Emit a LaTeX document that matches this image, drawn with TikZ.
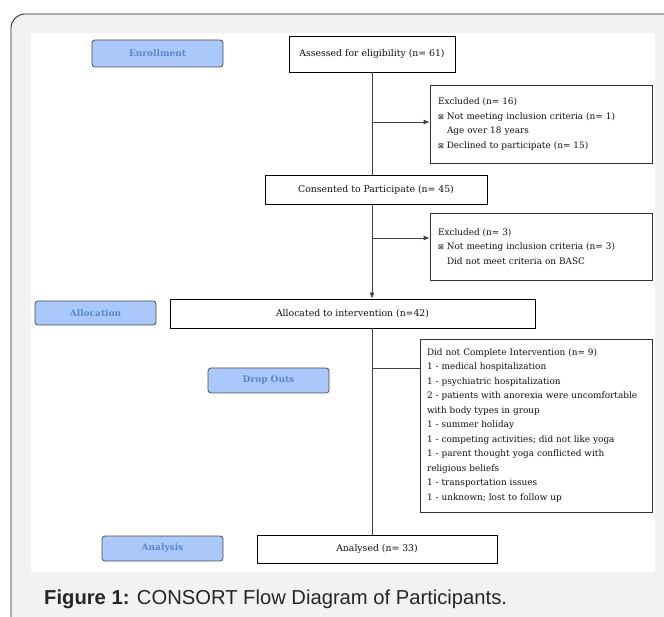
\documentclass[tikz,border=0pt]{standalone}
\usepackage{fontspec}
\setmainfont{DejaVu Serif}
\newfontfamily\capfont{Liberation Sans}
\newfontfamily\symfont{DejaVu Sans}
\usetikzlibrary{arrows.meta}

\definecolor{framegray}{HTML}{F1F2F4}
\definecolor{stagefill}{HTML}{ABC8FA}
\definecolor{stagetext}{HTML}{5B86C9}
\definecolor{inkgray}{HTML}{111111}

\newcommand{\bx}{{\symfont\fontsize{7}{8}\selectfont ⊠}\ }

\begin{document}
\begin{tikzpicture}[x=1pt,y=-1pt,
    stage/.style={draw=black!70, line width=0.8pt, fill=stagefill,
      rounded corners=3pt, inner sep=0pt, text=stagetext,
      font=\bfseries\fontsize{9}{11}\selectfont},
    flowbox/.style={draw=black, line width=0.8pt, fill=white, inner sep=0pt,
      text=inkgray, font=\fontsize{9.3}{12}\selectfont},
    notebox/.style={draw=black!80, line width=0.8pt, fill=white, inner sep=8pt,
      text=inkgray, align=left, font=\fontsize{8.9}{14.5}\selectfont},
    flow/.style={draw=black!75, line width=0.8pt},
    ]
    \useasboundingbox (0,0) rectangle (664,617);
    \clip (0,0) rectangle (664,617);
    % frame
    \draw[fill=framegray, draw=black!85, line width=0.9pt, rounded corners=14pt]
      (11,14) rectangle (700,660);
    \fill[white] (31,33) rectangle (655,572);

    % stage labels
    \node[stage, minimum width=131pt, minimum height=27pt] (enroll) at (157.5,53.5) {Enrollment};
    \node[stage, minimum width=121pt, minimum height=24pt] (allocation) at (95.5,313) {Allocation};
    \node[stage, minimum width=121pt, minimum height=25pt] (dropouts) at (268.5,380.5) {Drop Outs};
    \node[stage, minimum width=121pt, minimum height=25pt] (analysis) at (162.5,548.5) {Analysis};

    % main flow
    \node[flowbox, minimum width=166pt, minimum height=36pt] (assess) at (372,54) {Assessed for eligibility (n= 61)};
    \node[flowbox, minimum width=222pt, minimum height=29pt] (consent) at (376,189.5) {Consented to Participate (n= 45)};
    \node[flowbox, minimum width=365pt, minimum height=29pt] (alloc) at (352.5,313.5) {Allocated to intervention (n=42)};
    \node[flowbox, minimum width=240pt, minimum height=28pt] (analysed) at (377,549) {Analysed (n= 33)};

    % side boxes
    \node[notebox, minimum width=222pt, minimum height=78pt, text width=206pt] (excl1) at (541,124)
      {Excluded (n= 16)\\
       \bx Not meeting inclusion criteria (n= 1)\\
       \hspace*{9pt}Age over 18 years\\
       \bx Declined to participate (n= 15)};
    \node[notebox, minimum width=222pt, minimum height=67pt, text width=206pt] (excl2) at (541,246.5)
      {Excluded (n= 3)\\
       \bx Not meeting inclusion criteria (n= 3)\\
       \hspace*{9pt}Did not meet criteria on BASC\\[6pt]};
    \node[notebox, minimum width=232pt, minimum height=173pt, text width=218pt, inner sep=7pt] (dropbox) at (536,425.5)
      {Did not Complete Intervention (n= 9)\\
       1 - medical hospitalization\\
       1 - psychiatric hospitalization\\
       2 - patients with anorexia were uncomfortable\\
       with body types in group\\
       1 - summer holiday\\
       1 - competing activities; did not like yoga\\
       1 - parent thought yoga conflicted with\\
       religious beliefs\\
       1 - transportation issues\\
       1 - unknown; lost to follow up};

    % junctions on the trunk
    \coordinate (j1) at (372,122);
    \coordinate (j2) at (372,238);
    \coordinate (j3) at (372,368);

    % connectors
    \draw[flow] (assess.south) -- (assess.south |- consent.north);
    \draw[flow, -{Latex[length=6pt,width=5pt]}] (consent.south -| assess) -- (alloc.north -| assess);
    \draw[flow] (alloc.south -| assess) -- (analysed.north -| assess);
    \draw[flow, -{Latex[length=6pt,width=5pt]}] (j1) -- (excl1.west |- j1);
    \draw[flow, -{Latex[length=6pt,width=5pt]}] (j2) -- (excl2.west |- j2);
    \draw[flow] (j3) -- (dropbox.west |- j3);

    % caption
    \node[anchor=base west, inner sep=0pt, text=black!85,
      font=\capfont\fontsize{20.2}{24}\selectfont] (caption) at (44,604)
      {\textbf{Figure 1:} CONSORT Flow Diagram of Participants.};
\end{tikzpicture}
\end{document}
